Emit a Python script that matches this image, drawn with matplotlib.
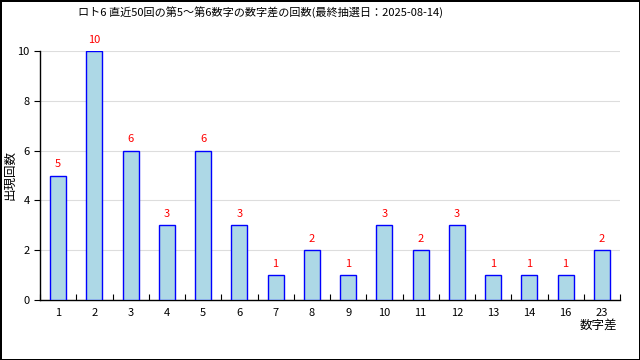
import matplotlib
matplotlib.use("Agg")
import matplotlib.pyplot as plt
import numpy as np

plt.rcParams['font.family'] = ['Noto Sans CJK JP', 'DejaVu Sans']

categories = ["1", "2", "3", "4", "5", "6", "7", "8", "9", "10", "11", "12", "13", "14", "16", "23"]
counts = [5, 10, 6, 3, 6, 3, 1, 2, 1, 3, 2, 3, 1, 1, 1, 2]

fig = plt.figure(figsize=(6.4, 3.6), dpi=100)
fig.patch.set_edgecolor('black')
fig.patch.set_linewidth(2)
ax = fig.add_axes([40/640, 60/360, 580/640, 249/360])

x = np.arange(len(categories))
ax.bar(x, counts, width=0.44, color='#add8e6', edgecolor='blue', linewidth=1, zorder=3)
for xi, v in zip(x, counts):
    ax.text(xi, v + 0.25, str(v), color='red', ha='center', va='bottom', fontsize=8, clip_on=False)

ax.set_xlim(-0.5, len(categories) - 0.5)
ax.set_ylim(0, 10)
ax.set_yticks([0, 2, 4, 6, 8, 10])
ax.yaxis.grid(True, color='#dddddd', linewidth=0.8, zorder=0)
ax.set_xticks(x)
ax.set_xticklabels(categories, fontsize=8)
ax.set_xticks(np.arange(len(categories) + 1) - 0.5, minor=True)
ax.tick_params(axis='x', which='major', length=0, pad=6)
ax.tick_params(axis='x', which='minor', direction='in', length=4, width=0.8)
ax.tick_params(axis='y', labelsize=8, length=4, width=0.8, direction='out')
for s in ['top', 'right']:
    ax.spines[s].set_visible(False)
ax.spines['left'].set_linewidth(1)
ax.spines['bottom'].set_linewidth(1)

fig.text(10/640, 1 - 175/360, '出現回数', rotation=90, ha='center', va='center', fontsize=9)
fig.text(617/640, 1 - 325/360, '数字差', ha='right', va='center', fontsize=9)
fig.text(260/640, 1 - 12/360, 'ロト6 直近50回の第5～第6数字の数字差の回数(最終抽選日：2025-08-14)', ha='center', va='center', fontsize=8)

fig.savefig('out.png', dpi=100, edgecolor=fig.get_edgecolor())
